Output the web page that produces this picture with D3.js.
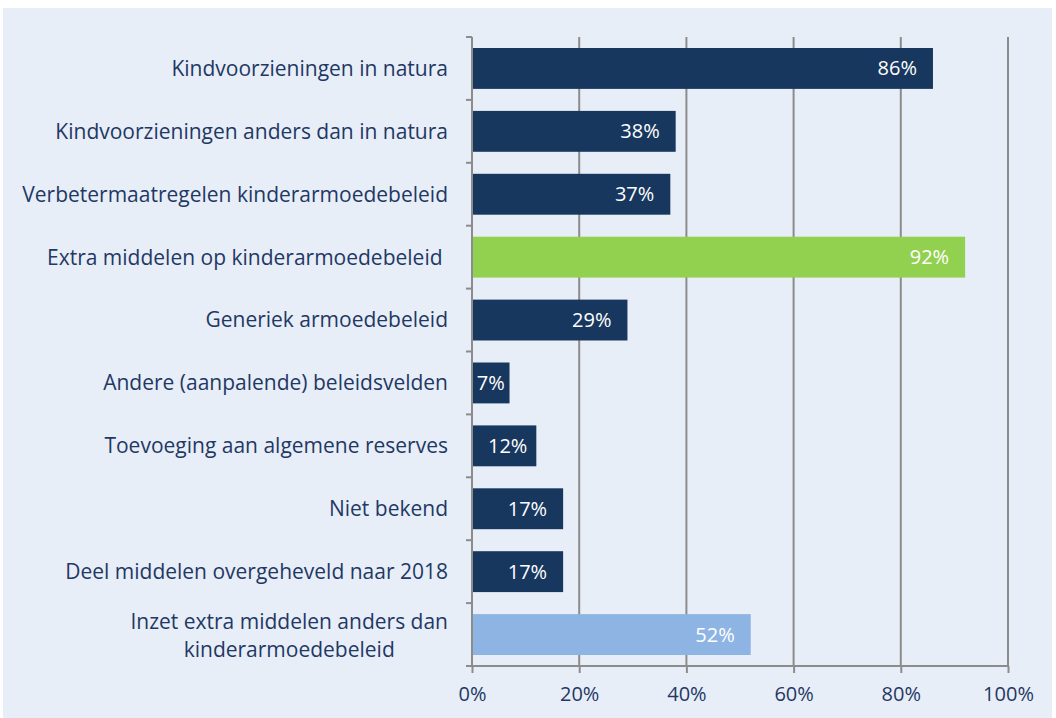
<!DOCTYPE html>
<html lang="nl">
<head>
    <meta charset="utf-8">
    <title>Besteding extra middelen</title>
    <script src="https://cdn.jsdelivr.net/npm/d3@7"></script>
</head>
<style>
    body {
        margin: 0;
        padding: 0;
        background-color: #ffffff;
        font-family: "Open Sans", sans-serif;
    }
    .cat-label {
        font-size: 21px;
        fill: #1f3864;
    }
    .val-label {
        font-size: 20px;
        fill: #ffffff;
    }
    .x-axis text {
        font-size: 20px;
        fill: #1f3864;
        font-family: "Open Sans", sans-serif;
    }
</style>
<body>
    <svg width="1056" height="718" id="chart"></svg>

    <script>
        // categories, top to bottom
        var categories = [
            "Kindvoorzieningen in natura",
            "Kindvoorzieningen anders dan in natura",
            "Verbetermaatregelen kinderarmoedebeleid",
            "Extra middelen op kinderarmoedebeleid\u00a0",
            "Generiek armoedebeleid",
            "Andere (aanpalende) beleidsvelden",
            "Toevoeging aan algemene reserves",
            "Niet bekend",
            "Deel middelen overgeheveld naar 2018",
            "Inzet extra middelen anders dan|kinderarmoedebeleid"
        ];
        var values = [86, 38, 37, 92, 29, 7, 12, 17, 17, 52];
        var kinds = ["sub", "sub", "sub", "main", "sub", "sub", "sub", "sub", "sub", "other"];
        var xTicks = [0, 20, 40, 60, 80, 100];

        var kindColor = {main: "#92d050", sub: "#17375e", other: "#8eb4e3"};

        var svg = d3.select("#chart");

        // panel background
        svg.append("rect")
            .attr("x", 3).attr("y", 8)
            .attr("width", 1049).attr("height", 710)
            .attr("fill", "#e8eef7");

        var margin = {left: 472, top: 37, right: 48, bottom: 52};
        var width = 1056 - margin.left - margin.right,
            height = 718 - margin.top - margin.bottom;

        var x = d3.scaleLinear().domain([0, 100]).range([0, width]);
        var y = d3.scaleBand().domain(d3.range(categories.length)).range([0, height]).paddingInner(0.35).paddingOuter(0.175);

        var g = svg.append("g")
            .attr("transform", "translate(" + margin.left + "," + margin.top + ")");

        // vertical gridlines
        g.selectAll(".grid")
            .data(xTicks.slice(1))
            .enter()
            .append("line")
            .attr("x1", function(d) { return x(d); })
            .attr("x2", function(d) { return x(d); })
            .attr("y1", 0)
            .attr("y2", height)
            .attr("stroke", "#8c8c8c")
            .attr("stroke-width", 2);

        // x axis
        var xAxis = g.append("g")
            .attr("class", "x-axis")
            .attr("transform", "translate(0," + height + ")")
            .call(d3.axisBottom(x).tickValues(xTicks).tickFormat(function(d) { return d + "%"; }).tickSize(7).tickSizeOuter(0).tickPadding(14));
        xAxis.select(".domain").attr("stroke", "#8c8c8c").attr("stroke-width", 2).attr("d", "M-6,0H" + width);
        xAxis.selectAll(".tick line").attr("stroke", "#8c8c8c").attr("stroke-width", 2);

        // bars
        g.selectAll(".bar")
            .data(values)
            .enter()
            .append("rect")
            .attr("x", 0)
            .attr("y", function(d, i) { return y(i); })
            .attr("width", function(d) { return x(d); })
            .attr("height", y.bandwidth())
            .attr("fill", function(d, i) { return kindColor[kinds[i]]; });

        // y axis line with category ticks
        var step = height / categories.length;
        g.append("line")
            .attr("x1", 0).attr("x2", 0)
            .attr("y1", 0).attr("y2", height)
            .attr("stroke", "#8c8c8c").attr("stroke-width", 2);
        g.selectAll(".ytick")
            .data(d3.range(categories.length + 1))
            .enter()
            .append("line")
            .attr("x1", -6).attr("x2", 0)
            .attr("y1", function(d) { return d * step; })
            .attr("y2", function(d) { return d * step; })
            .attr("stroke", "#8c8c8c").attr("stroke-width", 2);

        // value labels, inside end; pushed or centred when the bar is short
        g.selectAll(".val-label")
            .data(values)
            .enter()
            .append("text")
            .attr("class", "val-label")
            .attr("y", function(d, i) { return y(i) + y.bandwidth() / 2; })
            .attr("dy", ".35em")
            .text(function(d) { return d + "%"; })
            .each(function(d) {
                var w = this.getComputedTextLength();
                var bw = x(d);
                var left = Math.max(16, bw - 16 - w);
                if (left + w > bw) left = (bw - w) / 2;
                d3.select(this).attr("x", left);
            });

        // category labels
        var labels = g.selectAll(".cat-label")
            .data(categories)
            .enter()
            .append("text")
            .attr("class", "cat-label")
            .attr("text-anchor", "end")
            .attr("y", function(d, i) { return y(i) + y.bandwidth() / 2; });

        labels.each(function(d) {
            var parts = d.split("|");
            var t = d3.select(this);
            if (parts.length === 1) {
                t.append("tspan").attr("x", -24).attr("dy", ".35em").text(d);
            } else {
                t.attr("text-anchor", "middle");
                var first = t.append("tspan").attr("dy", "-0.25em").text(parts[0]);
                var w = first.node().getComputedTextLength();
                var cx = -24 - w / 2;
                first.attr("x", cx);
                t.append("tspan").attr("x", cx).attr("dy", "1.3em").text(parts[1]);
            }
        });
    </script>
</body>
</html>
